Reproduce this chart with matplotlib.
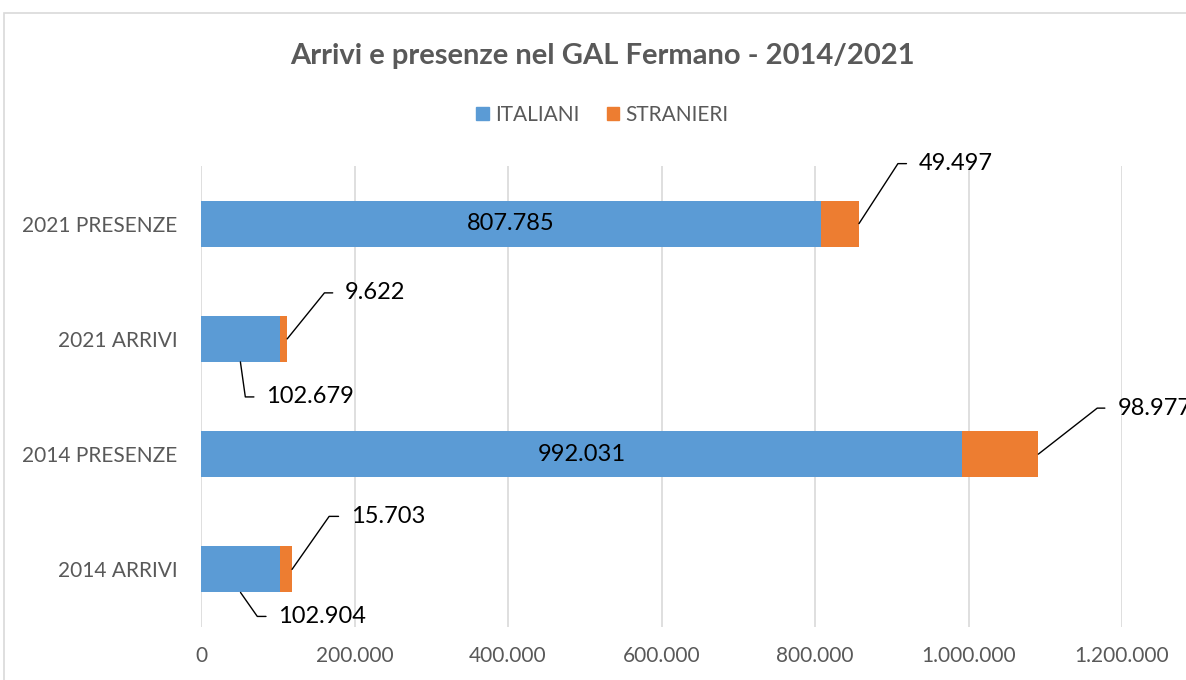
import matplotlib.pyplot as plt
from matplotlib.patches import Rectangle, Patch
from matplotlib.ticker import FuncFormatter

plt.rcParams['font.family'] = ['Lato', 'DejaVu Sans']

categories = ['2014 ARRIVI', '2014 PRESENZE', '2021 ARRIVI', '2021 PRESENZE']
italiani = [102904, 992031, 102679, 807785]
stranieri = [15703, 98977, 9622, 49497]
x_ticks = [0, 200000, 400000, 600000, 800000, 1000000, 1200000]

BLUE = '#5B9BD5'
ORANGE = '#ED7D31'
GRAY = '#595959'


def it_fmt(v, pos=None):
    return f'{int(round(v)):,}'.replace(',', '.')


fig = plt.figure(figsize=(11.86, 6.8), dpi=100)
W, H = 1186, 680
ax = fig.add_axes([201 / W, 1 - 627 / H, (1122 - 201) / W, (627 - 166) / H])

# chart frame
fig.patches.append(Rectangle((4 / W, -0.1), 1.2, 1 - 13 / H + 0.1, transform=fig.transFigure,
                             fill=False, edgecolor='#D9D9D9', lw=1.2, zorder=-1))

y = range(len(categories))
ax.barh(y, italiani, height=0.4, color=BLUE, zorder=3)
ax.barh(y, stranieri, left=italiani, height=0.4, color=ORANGE, zorder=3)

ax.set_xlim(0, 1200000)
ax.set_ylim(-0.5, 3.5)
ax.set_xticks(x_ticks)
ax.xaxis.set_major_formatter(FuncFormatter(it_fmt))
ax.set_yticks(list(y))
ax.set_yticklabels(categories)
ax.tick_params(axis='both', length=0, labelsize=15, colors=GRAY)
ax.tick_params(axis='x', pad=14)
ax.tick_params(axis='y', pad=17)
ax.grid(axis='x', color='#D9D9D9', lw=1.2, zorder=0)
for s in ax.spines.values():
    s.set_visible(False)

# labels inside the big blue bars
for i in (1, 3):
    ax.text(italiani[i] / 2, i, it_fmt(italiani[i]), ha='center', va='center',
            fontsize=17, color='black', zorder=4)

# leader-line labels: (x, y, text, dx_px, dy_px, corner angle)
callouts = [
    (italiani[3] + stranieri[3], 3, stranieri[3], 60, 60, 57),
    (italiani[2] + stranieri[2], 2, stranieri[2], 58, 46, 51),
    (italiani[1] + stranieri[1], 1, stranieri[1], 79, 46, 38),
    (italiani[0] + stranieri[0], 0, stranieri[0], 59, 53, 55),
    (italiani[2] / 2, 1.8, italiani[2], 26, -35, -82),
    (italiani[0] / 2, -0.2, italiani[0], 38, -24, -55),
]
for xv, yv, val, dx, dy, ang in callouts:
    ax.annotate(it_fmt(val), xy=(xv, yv), xytext=(dx, dy), textcoords='offset pixels',
                ha='left', va='center', fontsize=17, color='black', zorder=5,
                annotation_clip=False,
                arrowprops=dict(arrowstyle='-', color='black', lw=1,
                                relpos=(0, 0.5), shrinkA=7, shrinkB=0,
                                connectionstyle=f'angle,angleA=0,angleB={ang},rad=0'))

fig.text(0.508, 1 - 56 / H, 'Arrivi e presenze nel GAL Fermano - 2014/2021',
         ha='center', va='center', fontsize=21, fontweight='bold', color=GRAY)

handles = [Patch(color=BLUE, label='ITALIANI'), Patch(color=ORANGE, label='STRANIERI')]
fig.legend(handles=handles, loc='center', bbox_to_anchor=(0.508, 1 - 115 / H), ncol=2,
           frameon=False, fontsize=15, labelcolor=GRAY, handlelength=0.6, handleheight=0.6,
           handletextpad=0.3, columnspacing=1.3)

fig.savefig('out.png', dpi=100)
